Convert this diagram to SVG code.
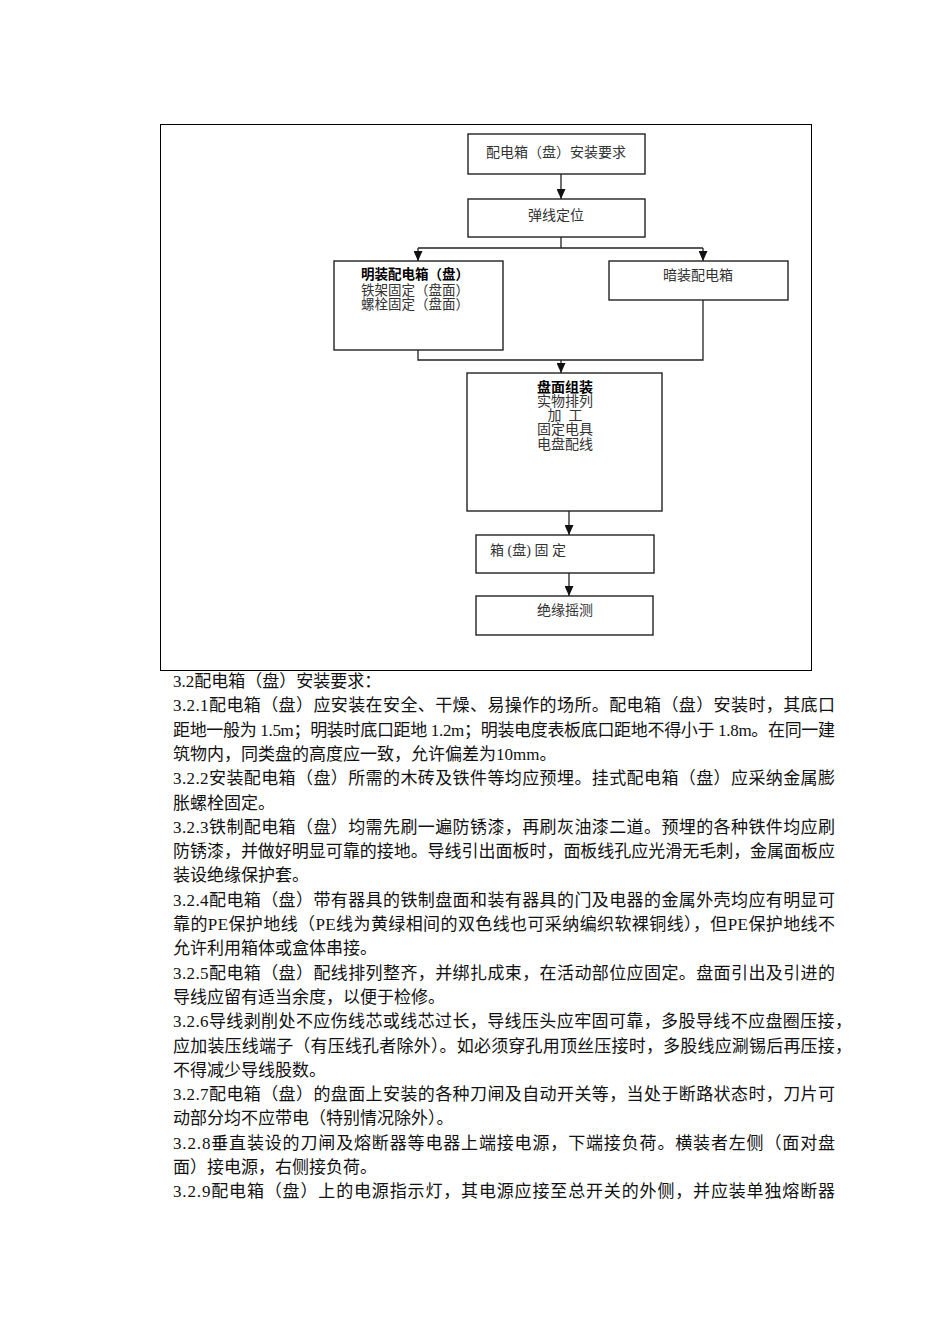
<svg xmlns="http://www.w3.org/2000/svg" width="950" height="1344" viewBox="0 0 950 1344">
<style>
.frame{fill:none;stroke:#000;stroke-width:1}
.box{fill:#fff;stroke:#222;stroke-width:1.4}
.conn{fill:none;stroke:#222;stroke-width:1.3}
.ft{font-family:"Liberation Serif","Noto Sans CJK SC",serif;font-size:14px;fill:#333}
.fb{font-family:"Liberation Sans","Noto Sans CJK SC",sans-serif;font-size:14px;font-weight:bold;fill:#000}
.body{font-family:"Liberation Serif","Noto Sans CJK SC",serif;font-size:17px;fill:#111}
</style>
<defs>
<marker id="arr" markerUnits="userSpaceOnUse" markerWidth="10" markerHeight="9" refX="10" refY="4.5" orient="auto">
<path d="M0,0 L10,4.5 L0,9 z" fill="#111"/>
</marker>
</defs>
<rect width="950" height="1344" fill="#fff"/>
<rect class="frame" x="160.5" y="124.5" width="651" height="546"/>

<g id="connectors">
<line class="conn" x1="561" y1="174" x2="561" y2="199" marker-end="url(#arr)"/>
<polyline class="conn" points="561,237 561,248"/>
<polyline class="conn" points="418,248 703,248"/>
<line class="conn" x1="418" y1="248" x2="418" y2="261" marker-end="url(#arr)"/>
<line class="conn" x1="703" y1="248" x2="703" y2="261" marker-end="url(#arr)"/>
<polyline class="conn" points="418,350 418,360 703,360 703,300"/>
<line class="conn" x1="561" y1="360" x2="561" y2="373" marker-end="url(#arr)"/>
<line class="conn" x1="569" y1="511" x2="569" y2="535" marker-end="url(#arr)"/>
<line class="conn" x1="569" y1="573" x2="569" y2="596" marker-end="url(#arr)"/>
</g>

<g id="n1">
<rect class="box" x="468" y="134" width="177" height="40"/>
<text class="ft" x="556" y="157" text-anchor="middle">配电箱（盘）安装要求</text>
</g>
<g id="n2">
<rect class="box" x="468" y="199" width="177" height="38"/>
<text class="ft" x="556" y="220" text-anchor="middle">弹线定位</text>
</g>
<g id="n3">
<rect class="box" x="334" y="261" width="169" height="89"/>
<text class="fb" x="415" y="279" text-anchor="middle" style="font-size:13.5px">明装配电箱（盘）</text>
<text class="ft" x="415" y="295" text-anchor="middle" style="font-size:13.5px">铁架固定（盘面）</text>
<text class="ft" x="415" y="309" text-anchor="middle" style="font-size:13.5px">螺栓固定（盘面）</text>
</g>
<g id="n4">
<rect class="box" x="609" y="261" width="179" height="39"/>
<text class="ft" x="698" y="280" text-anchor="middle">暗装配电箱</text>
</g>
<g id="n5">
<rect class="box" x="467" y="373" width="195" height="138"/>
<text class="fb" x="565" y="392" text-anchor="middle">盘面组装</text>
<text class="ft" x="565" y="406" text-anchor="middle">实物排列</text>
<text class="ft" x="565" y="420" text-anchor="middle" xml:space="preserve">加  工</text>
<text class="ft" x="565" y="434" text-anchor="middle">固定电具</text>
<text class="ft" x="565" y="449" text-anchor="middle">电盘配线</text>
</g>
<g id="n6">
<rect class="box" x="476" y="535" width="178" height="38"/>
<text class="ft" x="490" y="555" textLength="76" lengthAdjust="spacing">箱 (盘) 固 定</text>
</g>
<g id="n7">
<rect class="box" x="476" y="596" width="177" height="39"/>
<text class="ft" x="565" y="615" text-anchor="middle">绝缘摇测</text>
</g>

<g id="bodytext" class="body">
<text x="173" y="687">3.2配电箱（盘）安装要求：</text>
<text x="173" y="711.3" textLength="662" lengthAdjust="spacing">3.2.1配电箱（盘）应安装在安全、干燥、易操作的场所。配电箱（盘）安装时，其底口</text>
<text x="173" y="735.6" textLength="662" lengthAdjust="spacing">距地一般为 1.5m；明装时底口距地 1.2m；明装电度表板底口距地不得小于 1.8m。在同一建</text>
<text x="173" y="759.9">筑物内，同类盘的高度应一致，允许偏差为10mm。</text>
<text x="173" y="784.2" textLength="662" lengthAdjust="spacing">3.2.2安装配电箱（盘）所需的木砖及铁件等均应预埋。挂式配电箱（盘）应采纳金属膨</text>
<text x="173" y="808.5">胀螺栓固定。</text>
<text x="173" y="832.8" textLength="662" lengthAdjust="spacing">3.2.3铁制配电箱（盘）均需先刷一遍防锈漆，再刷灰油漆二道。预埋的各种铁件均应刷</text>
<text x="173" y="857.1" textLength="662" lengthAdjust="spacing">防锈漆，并做好明显可靠的接地。导线引出面板时，面板线孔应光滑无毛刺，金属面板应</text>
<text x="173" y="881.4">装设绝缘保护套。</text>
<text x="173" y="905.7" textLength="662" lengthAdjust="spacing">3.2.4配电箱（盘）带有器具的铁制盘面和装有器具的门及电器的金属外壳均应有明显可</text>
<text x="173" y="930" textLength="662" lengthAdjust="spacing">靠的PE保护地线（PE线为黄绿相间的双色线也可采纳编织软裸铜线），但PE保护地线不</text>
<text x="173" y="954.3">允许利用箱体或盒体串接。</text>
<text x="173" y="978.6" textLength="662" lengthAdjust="spacing">3.2.5配电箱（盘）配线排列整齐，并绑扎成束，在活动部位应固定。盘面引出及引进的</text>
<text x="173" y="1002.9">导线应留有适当余度，以便于检修。</text>
<text x="173" y="1027.2" textLength="679" lengthAdjust="spacing">3.2.6导线剥削处不应伤线芯或线芯过长，导线压头应牢固可靠，多股导线不应盘圈压接，</text>
<text x="173" y="1051.5" textLength="679" lengthAdjust="spacing">应加装压线端子（有压线孔者除外）。如必须穿孔用顶丝压接时，多股线应涮锡后再压接，</text>
<text x="173" y="1075.8">不得减少导线股数。</text>
<text x="173" y="1100.1" textLength="662" lengthAdjust="spacing">3.2.7配电箱（盘）的盘面上安装的各种刀闸及自动开关等，当处于断路状态时，刀片可</text>
<text x="173" y="1124.4">动部分均不应带电（特别情况除外）。</text>
<text x="173" y="1148.7" textLength="662" lengthAdjust="spacing">3.2.8垂直装设的刀闸及熔断器等电器上端接电源，下端接负荷。横装者左侧（面对盘</text>
<text x="173" y="1173">面）接电源，右侧接负荷。</text>
<text x="173" y="1197.3" textLength="662" lengthAdjust="spacing">3.2.9配电箱（盘）上的电源指示灯，其电源应接至总开关的外侧，并应装单独熔断器</text>
</g>
</svg>
